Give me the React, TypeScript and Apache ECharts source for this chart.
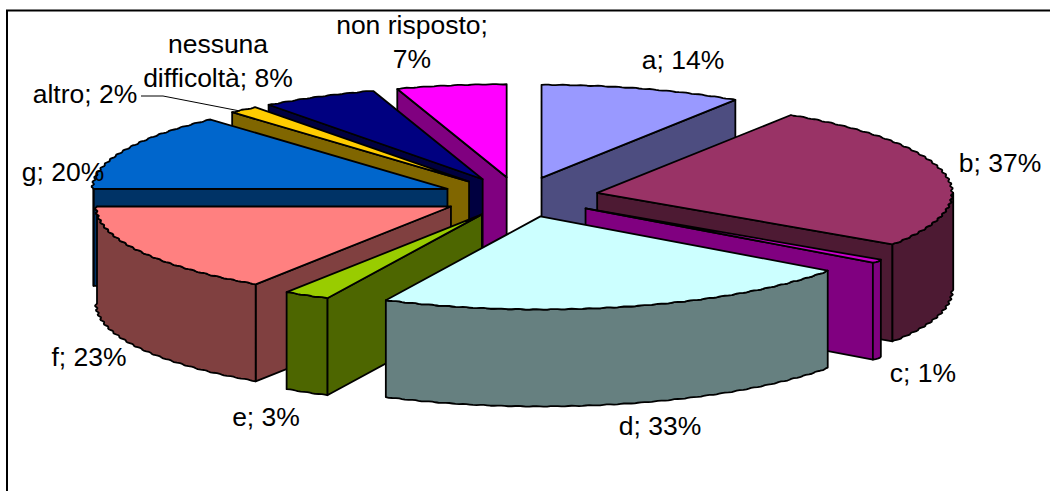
import React, { useEffect, useRef } from "react";
import * as echarts from "echarts";

const categories = ["a", "b", "c", "d", "e", "f", "g", "altro", "nessuna difficoltà", "non risposto"];
// unrounded shares; labels show them rounded
const values = [13.6, 37.2, 0.9, 32.9, 3.1, 23.3, 19.8, 2.0, 7.8, 7.4];
const topColors = ["#9999FF", "#993366", "#CC00CC", "#CCFFFF", "#99CC00", "#FF8080", "#0066CC", "#FFCC00", "#000080", "#FF00FF"];
const sideColors = ["#4D4D80", "#4D1A33", "#800080", "#668080", "#4D6600", "#804040", "#003366", "#806600", "#000040", "#800080"];
const labelBreaks: Record<string, string[]> = {
  "nessuna difficoltà": ["nessuna", "difficoltà"],
};
const labelCenters = [
  [683, 60], [1000, 163], [923, 373], [660, 426], [266, 417], [89, 357], [63, 172],
  [85, 94], [218, 61], [412, 42],
];

const CX = 520, CY = 197, RX = 355, RY = 93, DEPTH = 97, EX = 79, EY = 20, SKEW = 1;
const total = values.reduce((s, v) => s + v, 0);
const rad = (v: number) => (v / total) * Math.PI * 2;

function labelLinesFor(i: number): string[] {
  const pct = Math.round(values[i]);
  const name = categories[i];
  if (labelBreaks[name]) {
    const parts = labelBreaks[name];
    return [...parts.slice(0, -1), `${parts[parts.length - 1]}; ${pct}%`];
  }
  if (name === "non risposto") return [`${name};`, `${pct}%`];
  return [`${name}; ${pct}%`];
}

function renderItem(params: any, api: any) {
  const i = params.dataIndex;
  const start = rad(api.value(1));
  const end = start + rad(api.value(0));
  const mid = (start + end) / 2;
  const ax = CX + EX * Math.sin(mid) - SKEW * Math.cos(mid);
  const ay = CY - EY * Math.cos(mid);
  const rim = (t: number, d = 0) => {
    const w = 1 + 0.003 * Math.sin(t * 125);
    return [ax + RX * w * Math.sin(t), ay - RY * w * Math.cos(t) + d];
  };
  const line = { stroke: "#000", lineWidth: 1.8, lineJoin: "round" };
  const children: any[] = [];
  const wall = (t: number) =>
    children.push({
      type: "polygon",
      shape: { points: [[ax, ay], rim(t), rim(t, DEPTH), [ax, ay + DEPTH]] },
      style: { fill: sideColors[i], ...line },
    });
  if (Math.sin(start) < -1e-6) wall(start);
  if (Math.sin(end) > 1e-6) wall(end);
  const a0 = Math.max(start, Math.PI / 2);
  const a1 = Math.min(end, (Math.PI * 3) / 2);
  if (a1 > a0) {
    const upper: number[][] = [];
    const lower: number[][] = [];
    const n = Math.max(2, Math.ceil((a1 - a0) / 0.01));
    for (let k = 0; k <= n; k++) {
      const t = a0 + ((a1 - a0) * k) / n;
      upper.push(rim(t));
      lower.unshift(rim(t, DEPTH));
    }
    children.push({
      type: "polygon",
      shape: { points: upper.concat(lower) },
      style: { fill: sideColors[i], ...line },
    });
  }
  const top: number[][] = [[ax, ay]];
  const m = Math.max(2, Math.ceil((end - start) / 0.01));
  for (let k = 0; k <= m; k++) top.push(rim(start + ((end - start) * k) / m));
  children.push({ type: "polygon", shape: { points: top }, style: { fill: topColors[i], ...line } });
  return { type: "group", children };
}

export default function App() {
  const ref = useRef<HTMLDivElement>(null);
  useEffect(() => {
    if (!ref.current) return;
    const chart = echarts.init(ref.current, undefined, { renderer: "svg" });
    let acc = 0;
    const rows = values.map((v, i) => {
      const s = acc;
      acc += v;
      return { i, v, s, depth: Math.cos(rad(s) + rad(v) / 2) };
    });
    const series = rows.map((r) => ({
      type: "custom",
      coordinateSystem: "none",
      z: 2 + (1 - r.depth) * 10,
      silent: true,
      animation: false,
      data: rows.map((q) => ({ name: categories[q.i], value: [q.v, q.s] })),
      renderItem: (p: any, api: any) =>
        p.dataIndex === r.i ? renderItem(p, api) : { type: "group", children: [] },
    }));
    const textEls: any[] = [];
    categories.forEach((_, i) => {
      const lines = labelLinesFor(i);
      lines.forEach((t, j) => {
        textEls.push({
          type: "text",
          x: labelCenters[i][0],
          y: labelCenters[i][1] + (j - (lines.length - 1) / 2) * 34,
          z: 100,
          style: {
            text: t,
            fill: "#000",
            font: '26.5px "Liberation Sans", Arial, sans-serif',
            align: "center",
            verticalAlign: "middle",
          },
        });
      });
    });
    chart.setOption({
      animation: false,
      backgroundColor: "#fff",
      series,
      graphic: [
        {
          type: "polyline",
          z: 0,
          shape: { points: [[7, 491], [7, 10.5], [1050, 10.5]] },
          style: { stroke: "#000", lineWidth: 2, fill: "none" },
        },
        {
          type: "polyline",
          z: 100,
          shape: { points: [[141, 96], [163, 96], [240, 111]] },
          style: { stroke: "#000", lineWidth: 1, fill: "none" },
        },
        ...textEls,
      ],
    });
    return () => chart.dispose();
  }, []);
  return (
    <div
      ref={ref}
      style={{ position: "absolute", left: 0, top: 0, width: 1050, height: 491 }}
    />
  );
}
